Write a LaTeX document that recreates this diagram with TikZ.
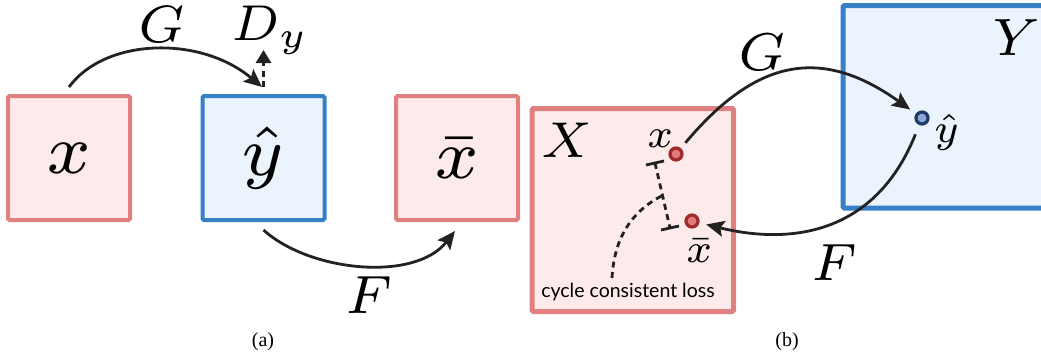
\RequirePackage{fix-cm}
\documentclass[tikz,border=0pt]{standalone}
\usepackage{graphicx}
\usepackage{fontspec}
\newfontfamily\lossfont{Lato}
\newfontfamily\capfont{Liberation Serif}
\usetikzlibrary{arrows.meta}
\newcommand\heavym[2]{\scalebox{#1}{\fontsize{7}{7}\selectfont$#2$}}
\definecolor{boxred}{RGB}{224,128,128}
\definecolor{fillred}{RGB}{253,235,235}
\definecolor{boxblue}{RGB}{56,128,198}
\definecolor{fillblue}{RGB}{235,243,252}
\definecolor{ptred}{RGB}{160,42,42}
\definecolor{ptredfill}{RGB}{224,122,122}
\definecolor{ptblue}{RGB}{30,58,106}
\definecolor{ptbluefill}{RGB}{143,166,214}
\definecolor{ink}{RGB}{34,34,34}
\begin{document}
\begin{tikzpicture}[x=1pt,y=-1pt,
  redbox/.style={draw=boxred,fill=fillred,line width=4pt,rounded corners=1.5pt,inner sep=0pt,
    minimum width=122pt,minimum height=124pt},
  bluebox/.style={redbox,draw=boxblue,fill=fillblue},
  bigredbox/.style={draw=boxred,fill=fillred,line width=5pt,rounded corners=1.5pt,inner sep=0pt},
  bigbluebox/.style={bigredbox,draw=boxblue,fill=fillblue},
  lbl/.style={anchor=base west,inner sep=0pt},
  ptr/.style={circle,draw=ptred,fill=ptredfill,line width=3.2pt,minimum size=12pt,inner sep=0pt},
  ptb/.style={circle,draw=ptblue,fill=ptbluefill,line width=3.2pt,minimum size=12pt,inner sep=0pt},
  arr/.style={draw=ink,line width=2.8pt,-{Stealth[length=18pt,width=16pt,inset=3.5pt]}},
  dashln/.style={draw=ink,line width=2.8pt,dash pattern=on 6pt off 4.5pt},
  caption/.style={font=\capfont\fontsize{20}{20}\selectfont,inner sep=0pt}
]
\useasboundingbox (0,0) rectangle (1041,356);

% ---------- (a) ----------
\node[redbox] (bx) at (69,158) {\heavym{10}{x}};
\node[bluebox] (by) at (263.5,158) {\heavym{10}{\hat{y}}};
\node[redbox] (bxb) at (457,158) {\heavym{10}{\bar{x}}};

\node[lbl] (Ga) at (138,42) {\heavym{7.5}{G}};
\node[lbl] (Dy) at (231,40) {\heavym{7.2}{D_y}};
\node[lbl] (Fa) at (345,313) {\heavym{7.7}{F}};
\coordinate (dytip) at (263.5,50);

\draw[arr] ([yshift=7pt]bx.north) .. controls (105,38) and (200,35) .. ([xshift=-1.5pt,yshift=7pt]by.north);
\draw[dashln,-{Triangle[length=13pt,width=15pt]}] ([yshift=7pt]by.north) -- (dytip);
\draw[arr] ([yshift=-8pt]by.south) .. controls (310,272) and (415,282) .. ([xshift=-2pt,yshift=-9pt]bxb.south);

\node[caption] (capa) at (263,342) {(a)};

% ---------- (b) ----------
\node[bigbluebox,minimum width=217pt,minimum height=202.5pt] (BY) at (951.5,106.75) {};
\node[bigredbox,minimum width=201.5pt,minimum height=203pt] (BX) at (632.75,210) {};

\node[lbl] (Xl) at (541,157) {\heavym{7.2}{X}};
\node[lbl] (Yl) at (992,55) {\heavym{7.5}{Y}};
\node[lbl] (Gb) at (738,70) {\heavym{7.6}{G}};
\node[lbl] (Fb) at (811,280) {\heavym{7.5}{F}};

\node[ptr] (px) at (676,154) {};
\node[ptr] (pxb) at (692,221) {};
\node[ptb] (py) at (922,118) {};

\node[lbl] (lx) at (647,147) {\heavym{5.8}{x}};
\node[lbl] (lxb) at (686,262) {\heavym{5.8}{\bar{x}}};
\node[lbl] (ly) at (934,142) {\heavym{5.8}{\hat{y}}};

\draw[arr,shorten <=7pt,shorten >=7pt] (px) .. controls (755,60) and (820,45) .. (py);
\draw[arr,shorten <=10pt,shorten >=7pt] (py) .. controls (875,235) and (790,245) .. (pxb);

% cycle consistent loss marker
\coordinate (d1) at (655,163);
\coordinate (d2) at (670,228);
\coordinate (dm) at (662.5,195.5);
\draw[dashln] (d1) -- (d2);
\draw[draw=ink,line width=2.8pt] (646,165) -- (664,161);
\draw[draw=ink,line width=2.8pt] (661,230) -- (679,226);
\node[inner sep=0pt,font=\lossfont\fontsize{19.5}{19.5}\selectfont] (loss) at (628,292) {cycle consistent loss};
\draw[dashln] (612,278) .. controls (614,240) and (630,212) .. (dm);

\node[caption] (capb) at (787,342) {(b)};
\end{tikzpicture}
\end{document}
